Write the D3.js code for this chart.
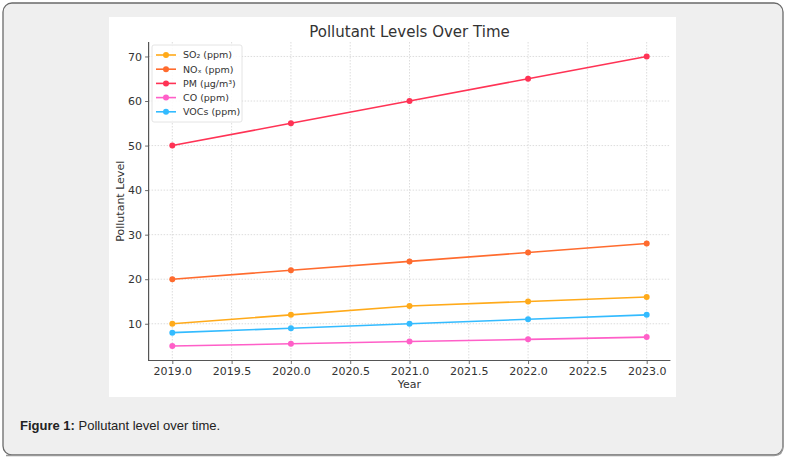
<!DOCTYPE html>
<html><head><meta charset="utf-8">
<script src="https://cdn.jsdelivr.net/npm/d3@7/dist/d3.min.js"></script>
<style>
html,body{margin:0;padding:0;background:#fff;}
svg{display:block;}
</style></head>
<body>
<svg id="c" width="786" height="459"></svg>
<script>
const years = [2019, 2020, 2021, 2022, 2023];
const so2 = [10, 12, 14, 15, 16];
const nox = [20, 22, 24, 26, 28];
const pm = [50, 55, 60, 65, 70];
const co = [5, 5.5, 6, 6.5, 7];
const vocs = [8, 9, 10, 11, 12];
const seriesNames = ["SO\u2082 (ppm)", "NO\u2093 (ppm)", "PM (\u00b5g/m\u00b3)", "CO (ppm)", "VOCs (ppm)"];
const seriesColors = ["#ffaa1a", "#ff6b2e", "#ff3355", "#ff5fc8", "#33bbff"];
const xTicks = [2019.0, 2019.5, 2020.0, 2020.5, 2021.0, 2021.5, 2022.0, 2022.5, 2023.0];
const yTicks = [10, 20, 30, 40, 50, 60, 70];
const titleText = "Pollutant Levels Over Time";
const xLabel = "Year";
const yLabel = "Pollutant Level";
const captionBold = "Figure 1:";
const captionText = " Pollutant level over time.";

const series = [so2, nox, pm, co, vocs];
const svg = d3.select("#c");

// outer frame
svg.append("rect").attr("x", 3).attr("y", 3).attr("width", 780).attr("height", 452)
  .attr("rx", 9).attr("fill", "#efefef").attr("stroke", "#6a6a6a").attr("stroke-width", 1.3);
svg.append("path").attr("d", "M6,455.5 L774,455.5 Q783,455.5 783,446").attr("fill","none")
  .attr("stroke","#999").attr("stroke-width",1.5);
// white image area
svg.append("rect").attr("x", 109).attr("y", 17).attr("width", 567).attr("height", 380).attr("fill", "#fff");

const L = 148.6, R = 670.4, T = 42, B = 360.5;
const x = d3.scaleLinear().domain([2018.8, 2023.2]).range([L, R]);
const y = d3.scaleLinear().domain([1.75, 73.25]).range([B, T]);

const font = "DejaVu Sans, sans-serif";

// grid
const g = svg.append("g");
g.selectAll(".gx").data(xTicks).enter().append("line")
  .attr("x1", d => x(d)).attr("x2", d => x(d)).attr("y1", T).attr("y2", B)
  .attr("stroke", "#d4d4d4").attr("stroke-width", 0.8).attr("stroke-dasharray", "1.5,1.5");
g.selectAll(".gy").data(yTicks).enter().append("line")
  .attr("x1", L).attr("x2", R).attr("y1", d => y(d)).attr("y2", d => y(d))
  .attr("stroke", "#d4d4d4").attr("stroke-width", 0.8).attr("stroke-dasharray", "1.5,1.5");

// axes
const xAxis = d3.axisBottom(x).tickValues(xTicks).tickFormat(d3.format(".1f")).tickSize(3.5).tickPadding(3);
const yAxis = d3.axisLeft(y).tickValues(yTicks).tickFormat(d3.format("d")).tickSize(3.5).tickPadding(3);
const gx = svg.append("g").attr("transform", `translate(0,${B})`).call(xAxis);
const gy = svg.append("g").attr("transform", `translate(${L},0)`).call(yAxis);
[gx, gy].forEach(a => {
  a.select(".domain").remove();
  a.selectAll(".tick line").attr("stroke", "#444").attr("stroke-width", 0.8);
  a.selectAll(".tick text").attr("fill", "#333").attr("font-family", font).attr("font-size", "11px");
});
svg.append("line").attr("x1", L).attr("x2", L).attr("y1", T).attr("y2", B + 0.5).attr("stroke", "#555").attr("stroke-width", 1.2);
svg.append("line").attr("x1", L - 0.5).attr("x2", R).attr("y1", B).attr("y2", B).attr("stroke", "#555").attr("stroke-width", 1.2);

// lines
const line = d3.line().x((d, i) => x(years[i])).y(d => y(d));
series.forEach((s, k) => {
  svg.append("path").datum(s).attr("d", line).attr("fill", "none")
    .attr("stroke", seriesColors[k]).attr("stroke-width", 1.6);
  svg.selectAll(null).data(s).enter().append("circle")
    .attr("cx", (d, i) => x(years[i])).attr("cy", d => y(d)).attr("r", 3)
    .attr("fill", seriesColors[k]);
});

// title & labels
svg.append("text").attr("x", (L + R) / 2).attr("y", 37).attr("text-anchor", "middle")
  .attr("font-family", font).attr("font-size", "15px").attr("fill", "#333").text(titleText);
svg.append("text").attr("x", (L + R) / 2).attr("y", 388).attr("text-anchor", "middle")
  .attr("font-family", font).attr("font-size", "11px").attr("fill", "#333").text(xLabel);
svg.append("text").attr("transform", `translate(124,${(T + B) / 2}) rotate(-90)`).attr("text-anchor", "middle")
  .attr("font-family", font).attr("font-size", "11px").attr("fill", "#333").text(yLabel);

// legend
const lg = svg.append("g");
lg.append("rect").attr("x", 152).attr("y", 45).attr("width", 90).attr("height", 77).attr("rx", 2)
  .attr("fill", "#fff").attr("fill-opacity", 0.85).attr("stroke", "#ddd").attr("stroke-width", 0.8);
seriesNames.forEach((n, k) => {
  const yy = 55 + k * 14.2;
  lg.append("line").attr("x1", 156).attr("x2", 176).attr("y1", yy).attr("y2", yy)
    .attr("stroke", seriesColors[k]).attr("stroke-width", 1.6);
  lg.append("circle").attr("cx", 166).attr("cy", yy).attr("r", 3).attr("fill", seriesColors[k]);
  lg.append("text").attr("x", 183).attr("y", yy + 3.4).attr("font-family", font)
    .attr("font-size", "9.5px").attr("fill", "#333").text(n);
});

// caption
const cap = svg.append("text").attr("x", 20).attr("y", 430).attr("font-family", "Liberation Sans, Arial, sans-serif")
  .attr("font-size", "13px").attr("fill", "#222");
cap.append("tspan").attr("font-weight", "bold").text(captionBold);
cap.append("tspan").text(captionText);
</script>
</body></html>
